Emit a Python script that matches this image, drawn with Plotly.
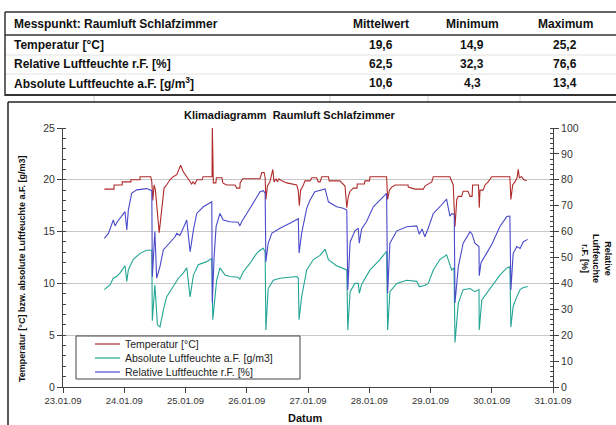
import pandas as pd
import plotly.graph_objects as go

# ---------------- data ----------------
start = pd.Timestamp("2009-01-23 00:00")

# hours since 23.01.09 00:00 and values
temp_h = [16.2, 20.0, 20.0, 23.2, 23.2, 26.6, 26.6, 30.2, 30.2, 34.4, 34.8, 35.2, 35.7, 36.2, 37.7,
          38.7, 39.6, 40.6, 41.9, 43.2, 44.6, 46.1, 47.1, 48.5, 49.8, 50.4, 50.9, 51.7, 52.5, 54.5,
          54.9, 58.4, 58.5, 58.9, 59.9, 60.1, 62.3, 62.6, 64.1, 67.4, 68.1, 69.3, 69.4, 70.4, 77.2,
          77.9, 78.8, 79.2, 79.5, 80.1, 81.1, 82.2, 82.7, 83.5, 84.0, 84.6, 85.7, 87.7, 91.6, 92.2,
          92.6, 93.1, 94.2, 94.8, 96.8, 97.5, 99.4, 100.0, 100.7, 101.4, 104.0, 104.3, 108.5, 109.2,
          110.5, 111.2, 111.8, 112.5, 113.8, 115.2, 115.3, 118.1, 118.3, 120.1, 120.3, 126.8, 127.2,
          127.9, 128.8, 130.1, 135.2, 135.3, 137.9, 141.2, 141.8, 144.5, 145.1, 151.6, 152.3, 152.9,
          153.6, 154.3, 154.9, 156.2, 156.8, 158.7, 159.5, 160.3, 160.5, 162.8, 163.1, 163.4, 164.6,
          165.4, 166.6, 168.0, 175.1, 175.5, 176.2, 177.1, 177.9, 178.4, 178.8, 179.7, 180.6, 181.7]
temp_v = [19.1, 19.1, 19.5, 19.5, 19.8, 19.8, 20.0, 20.0, 20.3, 20.3, 19.8, 18.0, 19.5, 19.0, 14.9,
          17.1, 19.2, 19.5, 20.0, 20.3, 20.5, 21.4, 20.8, 20.3, 19.8, 19.6, 19.8, 19.6, 20.0, 20.0,
          20.3, 20.3, 25.2, 19.7, 19.7, 20.2, 20.2, 19.7, 19.5, 19.5, 19.2, 19.2, 19.7, 20.1, 20.1,
          20.7, 20.7, 20.2, 18.1, 19.4, 19.8, 21.0, 19.8, 20.1, 19.8, 20.1, 19.9, 19.7, 19.5, 18.9,
          17.5, 19.0, 19.5, 19.9, 19.9, 20.2, 20.2, 19.8, 19.8, 20.3, 20.3, 19.9, 19.9, 19.7,
          19.4, 17.3, 18.4, 18.9, 19.2, 19.2, 19.6, 19.6, 19.9, 19.9, 20.3, 20.3, 18.1,
          19.0, 19.3, 19.5, 19.5, 19.3, 19.1, 19.1, 19.4, 19.8, 20.3, 20.3, 19.8, 19.5,
          15.5, 18.1, 18.4, 18.4, 18.9, 18.9, 18.4, 18.4, 19.5, 19.5, 17.3, 19.0, 19.0,
          19.5, 19.8, 20.3, 20.3, 18.1, 19.5, 19.8, 20.2, 21.0, 20.2, 20.3, 20.0, 19.9]

rh_h = [16.2, 17.8, 19.7, 20.4, 21.3, 23.0, 24.3, 25.0, 25.6, 26.9, 28.9, 32.8, 34.1, 34.8, 35.0,
        36.0, 36.7, 38.0, 39.3, 41.9, 43.9, 44.6, 45.8, 47.1, 48.5, 49.8, 51.1, 52.4, 55.0, 58.3,
        58.5, 59.2, 60.0, 61.5, 62.8, 65.4, 68.6, 69.3, 70.0, 73.3, 77.2, 78.5, 79.2, 79.5, 80.4,
        81.8, 85.0, 88.9, 91.6, 92.2, 92.5, 93.5, 95.5, 96.8, 98.7, 102.7, 104.0, 107.2, 109.8,
        111.2, 111.6, 112.5, 114.4, 115.7, 116.1, 117.0, 119.0, 121.6, 123.5, 126.8, 127.2, 128.1,
        130.8, 134.7, 138.6, 139.6, 140.7, 141.8, 143.1, 145.1, 147.7, 150.3, 151.6, 152.4, 153.3,
        153.6, 154.9, 156.8, 159.5, 160.3, 161.4, 163.0, 163.1, 163.8, 166.0, 168.0, 171.2, 173.9,
        175.1, 175.5, 176.4, 177.8, 179.1, 180.4, 182.1]
rh_v = [57.4, 59.3, 64.5, 62.2, 63.8, 65.8, 67.7, 60.6, 68.3, 74.8, 76.1, 76.6, 76.1, 75.8, 42.6,
        60.0, 42.0, 46.5, 52.9, 55.6, 58.0, 59.3, 58.5, 61.3, 64.5, 52.2, 60.6, 67.0, 69.6, 71.5,
        32.3, 50.0, 62.0, 67.0, 64.5, 63.8, 63.6, 62.2, 63.8, 69.0, 75.4, 75.8, 74.8, 48.4, 55.5,
        59.3, 61.3, 63.2, 64.5, 65.0, 51.7, 59.3, 69.0, 72.2, 75.4, 76.5, 71.5, 69.6, 69.0,
        68.3, 37.5, 56.0, 60.3, 61.3, 55.5, 61.0, 64.0, 69.6, 71.5, 74.8, 36.2, 55.5,
        60.3, 61.9, 62.2, 59.0, 61.0, 58.0, 61.3, 67.0, 69.6, 72.5, 66.0, 67.0, 66.5,
        32.5, 46.5, 55.5, 60.0, 59.0, 55.5, 54.2, 43.0, 48.0, 51.7, 55.0, 62.0, 65.8,
        66.0, 37.5, 51.6, 54.2, 53.5, 56.1, 57.0]

ah_h = [16.2, 18.4, 19.7, 21.0, 22.3, 24.3, 25.0, 25.6, 27.5, 30.2, 32.8, 34.8, 35.0, 36.0, 37.0,
        38.0, 39.3, 40.6, 43.2, 45.2, 47.1, 48.5, 49.8, 51.1, 53.0, 56.3, 58.3, 58.7, 60.2, 61.5,
        63.5, 65.4, 68.6, 69.3, 70.6, 73.3, 75.9, 77.2, 78.5, 79.2, 79.5, 80.4, 82.4, 85.0, 91.6,
        92.2, 92.5, 93.5, 95.5, 98.1, 100.7, 102.7, 104.0, 107.2, 111.2, 111.6, 112.5, 114.4, 115.7,
        116.1, 117.0, 119.0, 120.3, 124.2, 126.8, 127.2, 128.1, 130.8, 134.7, 138.6, 139.6, 141.8,
        143.1, 145.1, 147.7, 150.3, 151.6, 152.3, 153.2, 153.6, 154.9, 156.8, 159.5, 161.4, 163.0,
        163.1, 164.1, 166.0, 169.3, 171.2, 173.9, 175.1, 175.5, 176.4, 177.8, 179.1, 180.4, 182.1]
ah_v = [9.4, 9.85, 10.5, 10.66, 11.0, 11.7, 10.2, 11.3, 12.3, 12.9, 13.2, 13.2, 6.4, 9.85, 6.0,
        5.8, 7.4, 8.7, 9.7, 10.5, 11.0, 11.5, 8.7, 10.8, 11.8, 12.1, 12.4, 6.5, 10.3, 11.5,
        10.8, 10.66, 10.6, 10.4, 11.1, 11.95, 12.9, 13.2, 13.4, 13.0, 5.5, 9.5, 10.3, 10.5, 10.66,
        10.5, 6.5, 8.7, 11.3, 12.3, 12.7, 13.3, 12.3, 11.7, 11.3, 5.5, 9.2, 10.0, 10.0,
        9.05, 9.9, 10.7, 11.3, 12.3, 13.1, 5.5, 9.2, 10.0, 10.3, 10.2, 9.7, 9.8,
        10.0, 11.3, 12.3, 12.75, 11.8, 11.3, 11.5, 4.3, 8.1, 9.4, 9.5, 9.2, 9.4,
        5.5, 8.4, 9.05, 10.2, 10.8, 11.5, 11.6, 5.8, 7.8, 8.7, 9.4, 9.6, 9.7]

series_names = ["Temperatur [°C]", "Absolute Luftfeuchte a.F. [g/m3]", "Relative Luftfeuchte r.F. [%]"]

table_title = "Messpunkt: Raumluft Schlafzimmer"
table_cols = ["Mittelwert", "Minimum", "Maximum"]
table_rows = ["Temperatur [°C]", "Relative Luftfeuchte r.F. [%]", "Absolute Luftfeuchte a.F. [g/m<sup>3</sup>]"]
table_vals = [["19,6", "14,9", "25,2"],
              ["62,5", "32,3", "76,6"],
              ["10,6", "4,3", "13,4"]]

day_ticks = pd.date_range("2009-01-23", "2009-01-31", freq="D")

def to_time(hours):
    return start + pd.to_timedelta(hours, unit="h")

# ---------------- layout helpers ----------------
W, H = 616, 425
L, R, T, B = 63, 63, 128, 38
PW, PH = W - L - R, H - T - B
FONT = "Liberation Sans, Arial, sans-serif"

def fx(x):
    return (x - L) / PW

def fy(y):
    return (H - B - y) / PH

RED, TEAL, BLUE = "#b02a2a", "#22a595", "#4a4acb"
COLORS = [RED, TEAL, BLUE]
AX = "#444444"

fig = go.Figure()
fig.add_trace(go.Scatter(x=to_time(temp_h), y=temp_v, mode="lines", name=series_names[0],
                         line=dict(color=RED, width=1.1)))
fig.add_trace(go.Scatter(x=to_time(ah_h), y=ah_v, mode="lines", name=series_names[1],
                         line=dict(color=TEAL, width=1.1)))
fig.add_trace(go.Scatter(x=to_time(rh_h), y=rh_v, mode="lines", name=series_names[2], yaxis="y2",
                         line=dict(color=BLUE, width=1.1)))

ann = []
shapes = []

# chart title and axis titles
ann.append(dict(x=fx(290), y=fy(115), text="<b>Klimadiagramm  Raumluft Schlafzimmer</b>",
                font=dict(size=11, color="#111")))
ann.append(dict(x=fx(22), y=fy(269), text="<b>Temperatur [°C] bzw. absolute Luftfeuchte a.F. [g/m3]</b>",
                textangle=-90, font=dict(size=9, color="#111")))
ann.append(dict(x=fx(597), y=fy(258), text="<b>Relative<br>Luftfeuchte<br>r.F. [%]</b>",
                textangle=90, font=dict(size=9, color="#111")))
ann.append(dict(x=fx(305), y=fy(418), text="<b>Datum</b>", font=dict(size=11, color="#111")))

# table
ann.append(dict(x=fx(12), y=fy(24), xanchor="left", text="<b>" + table_title + "</b>",
                font=dict(size=12, color="#111")))
col_x = [381, 472, 565]
row_y = [45, 64, 83]
for cx, c in zip(col_x, table_cols):
    ann.append(dict(x=fx(cx), y=fy(24), text="<b>" + c + "</b>", font=dict(size=12, color="#111")))
for ry, rname, vals in zip(row_y, table_rows, table_vals):
    ann.append(dict(x=fx(12), y=fy(ry), xanchor="left", text="<b>" + rname + "</b>",
                    font=dict(size=12, color="#111")))
    for cx, v in zip(col_x, vals):
        ann.append(dict(x=fx(cx), y=fy(ry), text="<b>" + v + "</b>", font=dict(size=12, color="#111")))

def hline(y, x0, x1, color, width, layer="above"):
    shapes.append(dict(type="line", xref="paper", yref="paper", x0=fx(x0), x1=fx(x1), y0=fy(y), y1=fy(y),
                       line=dict(color=color, width=width), layer=layer))

def vline(x, y0, y1, color, width):
    shapes.append(dict(type="line", xref="paper", yref="paper", x0=fx(x), x1=fx(x), y0=fy(y0), y1=fy(y1),
                       line=dict(color=color, width=width)))

hline(12, 5, 616, "#333", 1.5)
hline(35, 5, 616, "#333", 1.5)
hline(55, 5, 616, "#e2e2e2", 1)
hline(74, 5, 616, "#e2e2e2", 1)
hline(95, 5, 616, "#333", 2)
vline(5, 12, 96, "#333", 1.5)
for xv in [94, 330, 428, 520]:
    vline(xv, 96, 102, "#d0d0d0", 1)
# chart frame
hline(102, 8, 616, "#222", 1.5)
vline(8, 102, 425, "#222", 1.5)

# legend box (drawn by hand to match the original compact legend)
shapes.append(dict(type="rect", xref="paper", yref="paper", x0=fx(76), x1=fx(300), y0=fy(336), y1=fy(379),
                   line=dict(color="#444", width=1), fillcolor="white", layer="above"))
for i, (nm, col) in enumerate(zip(series_names, COLORS)):
    yy = 344 + 14 * i
    hline(yy, 95, 120, col, 1.2)
    ann.append(dict(x=fx(123), y=fy(yy), xanchor="left", text=nm, font=dict(size=10.5, color="#222")))

for a in ann:
    a.update(xref="paper", yref="paper", showarrow=False, font_family=FONT)
    a.setdefault("xanchor", "center")
    a.setdefault("yanchor", "middle")

fig.update_layout(
    width=W, height=H, margin=dict(l=L, r=R, t=T, b=B, pad=0),
    paper_bgcolor="white", plot_bgcolor="white",
    font=dict(family=FONT, color="#333"),
    showlegend=False,
    annotations=ann, shapes=shapes,
    xaxis=dict(type="date", range=[day_ticks[0], day_ticks[-1]], tickvals=day_ticks,
               tickformat="%d.%m.%y", ticks="outside", ticklen=5, tickcolor=AX,
               showline=True, linecolor=AX, linewidth=1, showgrid=False, zeroline=False,
               tickfont=dict(size=9.5, color="#333")),
    yaxis=dict(range=[0, 25], dtick=5, ticks="outside", ticklen=5, tickcolor=AX,
               minor=dict(ticks="inside", dtick=1, ticklen=3, tickcolor=AX, showgrid=False),
               showline=True, linecolor=AX, linewidth=1, showgrid=True, gridcolor="#c8c8c8",
               gridwidth=1, zeroline=False, tickfont=dict(size=10.5, color="#333")),
    yaxis2=dict(range=[0, 100], dtick=10, ticks="outside", ticklen=5, tickcolor=AX,
                minor=dict(ticks="inside", dtick=2, ticklen=3, tickcolor=AX, showgrid=False),
                overlaying="y", side="right", showline=True, linecolor=AX, linewidth=1,
                showgrid=False, zeroline=False, tickfont=dict(size=10.5, color="#333")),
)

fig.write_html("out.html", config={"displayModeBar": False},
               post_script="document.body.style.margin='0';document.body.style.overflow='hidden';")
